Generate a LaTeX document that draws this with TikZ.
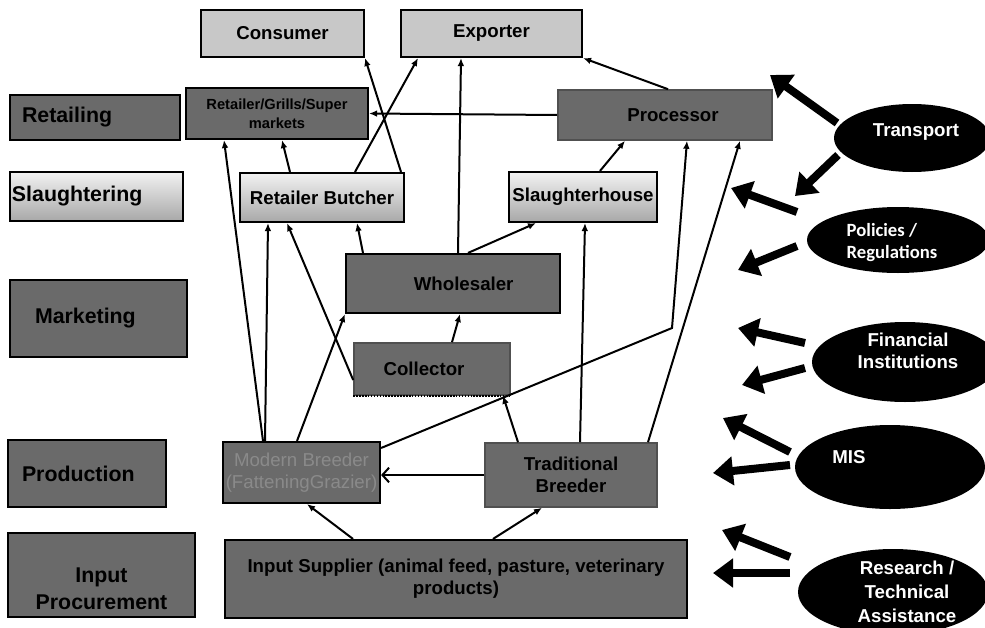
\documentclass[tikz,border=0pt]{standalone}
\usepackage{fontspec}
\setmainfont{Liberation Sans}
\newfontfamily\calfont{Carlito}
\usetikzlibrary{arrows.meta,shapes.geometric}

\definecolor{boxdark}{RGB}{106,106,106}
\definecolor{boxlight}{RGB}{200,200,200}
\definecolor{shadetop}{RGB}{242,242,242}
\definecolor{shadebot}{RGB}{168,168,168}
\definecolor{rimgray}{RGB}{80,80,80}
\definecolor{mbtext}{RGB}{138,138,138}

\tikzset{every picture/.style={line width=0.75pt}}
\tikzset{
  boxsize/.style 2 args={minimum width=#1, minimum height=#2},
  basebox/.style={rectangle, draw=black, line width=1.6pt, inner sep=0.75pt, align=center, font=\bfseries\fontsize{14}{16.5}\selectfont},
  darkbox/.style={basebox, fill=boxdark},
  softbox/.style={basebox, fill=boxdark, draw=rimgray, line width=1.2pt},
  lightbox/.style={basebox, fill=boxlight},
  shadebox/.style={basebox, top color=shadetop, bottom color=shadebot},
  stage/.style={font=\bfseries\fontsize{16}{20}\selectfont, align=left},
  agent/.style={ellipse, fill=black, draw=none, inner sep=0pt},
  agentlabel/.style={text=white, inner sep=0.75pt, font=\bfseries\fontsize{14}{16.5}\selectfont},
  flow/.style={line width=1.5pt, -{Latex[length=6pt,width=5pt]}},
  flowopen/.style={line width=1.5pt, -{Straight Barb[length=5pt,width=11pt]}},
  push/.style={line width=6pt, -{Triangle[length=15pt,width=21pt]}},
}

\begin{document}
\begin{tikzpicture}[x=0.75pt,y=0.75pt,yscale=-1,xscale=1]
\useasboundingbox (0,0) rectangle (985,628);
\clip (0,0) rectangle (985,628);

%Shape: Rectangle (stages)
\node[darkbox, stage, boxsize={127.5pt}{33.75pt}, text width=109.5pt] (retl) at (95,117.5) {Retailing};
\node[shadebox, stage, boxsize={129.75pt}{36.75pt}, text width=126.75pt] (slg) at (96.5,196.5) {Slaughtering};
\node[darkbox, stage, boxsize={132.75pt}{57.75pt}, text width=95.25pt] (mkt) at (98.5,318.5) {Marketing};
\node[darkbox, stage, boxsize={118.5pt}{50.25pt}, text width=97.5pt] (prd) at (87,473.5) {Production};
\node[darkbox, boxsize={140.25pt}{63pt}] (inp) at (101.5,575) {};
% Text Node
\node[stage, align=center, inner sep=0.75pt] (inpt) at (101.5,589) {Input\\Procurement};

%Shape: Rectangle (actors)
\node[lightbox, boxsize={122.25pt}{35.25pt}] (cons) at (282.5,33.5) {Consumer};
\node[lightbox, boxsize={135.75pt}{35.25pt}] (expo) at (491.5,33.5) {Exporter};
\node[darkbox, boxsize={136.5pt}{38.25pt}, font=\bfseries\fontsize{11}{14}\selectfont] (rgs) at (277,113.5) {Retailer/Grills/Super\\markets};
\node[softbox, boxsize={160.5pt}{37.5pt}] (proc) at (665,115) {\hspace*{12pt}Processor};
\node[shadebox, boxsize={123pt}{36.75pt}] (rb) at (322,197.5) {Retailer Butcher};
\node[shadebox, boxsize={111pt}{37.5pt}] (sh) at (583,197) {Slaughterhouse};
\node[darkbox, boxsize={160.5pt}{44.25pt}] (whl) at (453,283.5) {\hspace*{16pt}Wholesaler};
\node[softbox, boxsize={117pt}{39pt}] (col) at (432,369) {Collector\hspace*{12pt}};
\draw[densely dotted, line width=1.2pt] (col.south west) -- (col.south east);
\node[darkbox, boxsize={117.75pt}{45.75pt}, text=mbtext, font=\fontsize{14}{16.5}\selectfont] (mb) at (301.5,472.5) {Modern Breeder\\(FatteningGrazier)};
\node[softbox, boxsize={129pt}{48pt}] (tb) at (571,475) {Traditional\\Breeder};
\node[darkbox, boxsize={346.5pt}{58.5pt}] (isup) at (456,579) {Input Supplier (animal feed, pasture, veterinary\\products)};

%Shape: Ellipse
\node[agent, boxsize={117pt}{51pt}] (trans) at (912,138) {};
\node[agent, boxsize={136.5pt}{49.5pt}] (pol) at (898,240) {};
\node[agent, boxsize={139.5pt}{60pt}] (fin) at (905,362) {};
\node[agent, boxsize={142.5pt}{63pt}] (mis) at (890,467) {};
\node[agent, boxsize={142.5pt}{64.5pt}] (res) at (893,592) {};

% Text Node
\node[agentlabel] (transt) at (916,132) {Transport};
\node[agentlabel, align=left, font=\calfont\bfseries\fontsize{14}{16.5}\selectfont] (polt) at (892,243) {Policies /\\Regulations};
\node[agentlabel, align=center] (fint) at (908,351) {Financial\\Institutions};
\node[agentlabel] (mist) at (849,457) {MIS};
\node[agentlabel, align=center, font=\bfseries\fontsize{14}{18}\selectfont] (rest) at (907,592) {Research /\\Technical\\Assistance};

%Straight Lines
\draw[flow] (rb.north -| 401,0) -- (cons.south -| 365,0);
\draw[flow] (rb.north -| 355,0) -- (expo.south -| 418,0);
\draw[flow] (whl.north -| 458,0) -- (expo.south -| 461,0);
\draw[flow] (proc.north -| 668,0) -- (expo.south east);
\draw[flow] (proc.west) -- (rgs.east);
\draw[flow] (rb.north -| 290,0) -- (rgs.south -| 282,0);
\draw[flow] (mb.north -| 263,0) -- (rgs.south -| 224,0);
\draw[flow] (mb.north -| 265,0) -- (rb.south -| 268,0);
\draw[flow] (col.west |- 0,380) -- (rb.south -| 287,0);
\draw[flow] (whl.north -| 363,0) -- (rb.south -| 357,0);
\draw[flow] (whl.north -| 468,0) -- (sh.south -| 536,0);
\draw[flow] (sh.north -| 600,0) -- (proc.south -| 625,0);
\draw[flow] (mb.north -| 297,0) -- (whl.south west);
\draw[flow] (col.north -| 452,0) -- (whl.south -| 460,0);
\coordinate (mbbend) at (672,328);
\draw[flow] (mb.east |- 0,448) -- (mbbend) -- (proc.south -| 687,0);
\draw[flow] (tb.north -| 518,0) -- (col.south -| 503,0);
\draw[flow] (tb.north -| 580,0) -- (sh.south -| 585,0);
\draw[flow] (tb.north -| 648,0) -- (proc.south -| 740,0);
\draw[flowopen] (tb.west) -- (mb.east |- tb.west);
\draw[flow] (isup.north -| 353,0) -- (mb.south -| 307,0);
\draw[flow] (isup.north -| 493,0) -- (tb.south -| 542,0);

%Block Arrows
\coordinate (tr1s) at (837,123); \coordinate (tr1e) at (770,75);
\coordinate (tr2s) at (838,155); \coordinate (tr2e) at (795,196);
\coordinate (po1s) at (797,212); \coordinate (po1e) at (731,188);
\coordinate (po2s) at (797,246); \coordinate (po2e) at (738,270);
\coordinate (fi1s) at (805,343); \coordinate (fi1e) at (738,328);
\coordinate (fi2s) at (805,368); \coordinate (fi2e) at (742,385);
\coordinate (mi1s) at (790,452); \coordinate (mi1e) at (723,418);
\coordinate (mi2s) at (790,465); \coordinate (mi2e) at (713,473);
\coordinate (re1s) at (790,557); \coordinate (re1e) at (722,530);
\coordinate (re2s) at (790,573); \coordinate (re2e) at (713,573);
\draw[push] (tr1s) -- (tr1e);
\draw[push] (tr2s) -- (tr2e);
\draw[push] (po1s) -- (po1e);
\draw[push] (po2s) -- (po2e);
\draw[push] (fi1s) -- (fi1e);
\draw[push] (fi2s) -- (fi2e);
\draw[push] (mi1s) -- (mi1e);
\draw[push] (mi2s) -- (mi2e);
\draw[push] (re1s) -- (re1e);
\draw[push] (re2s) -- (re2e);

\end{tikzpicture}
\end{document}
